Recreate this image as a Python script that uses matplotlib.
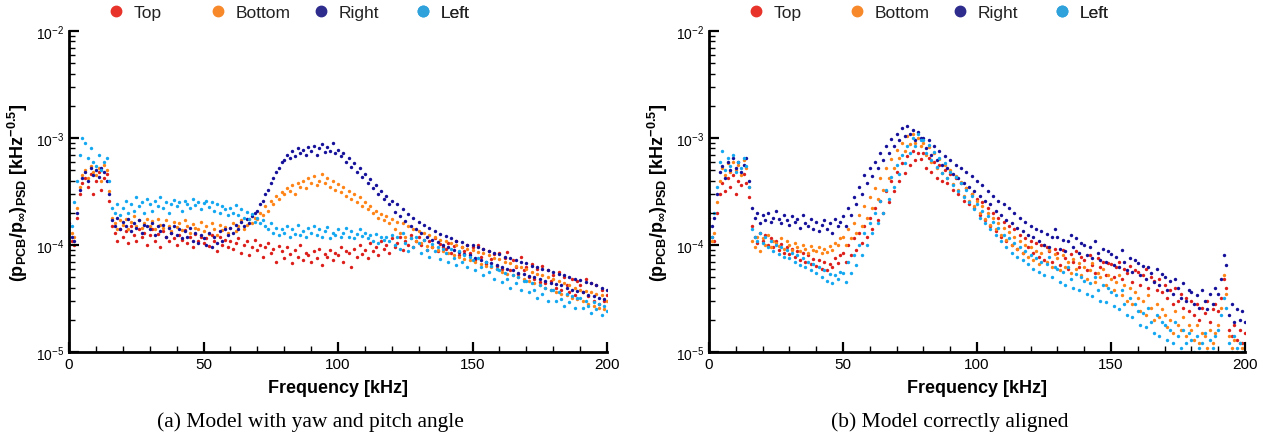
import numpy as np
import matplotlib.pyplot as plt
from matplotlib.ticker import MultipleLocator, LogLocator, NullFormatter
from matplotlib.lines import Line2D

plt.rcParams['font.family'] = ['Liberation Sans', 'DejaVu Sans']
plt.rcParams['mathtext.fontset'] = 'custom'
plt.rcParams['mathtext.rm'] = 'Liberation Sans'
plt.rcParams['mathtext.bf'] = 'Liberation Sans:bold'

# frequency grid [kHz], one reading per kHz
freq = np.arange(0, 201)

# PSD values, in units of 1e-6 kHz^-0.5
# (a) model with yaw and pitch angle
top_a = [150, 110, 100, 180, 300, 380, 420, 350, 460, 300,
         400, 480, 330, 420, 460, 260, 150, 130, 110, 140,
         120, 135, 105, 150, 125, 110, 140, 118, 130, 100,
         125, 140, 110, 128, 95, 135, 120, 108, 130, 115,
         100, 125, 112, 138, 105, 118, 95, 128, 110, 120,
         105, 115, 98, 125, 108, 88, 118, 100, 112, 95,
         110, 92, 105, 115, 85, 100, 108, 80, 96, 112,
         90, 100, 78, 95, 105, 85, 92, 70, 98, 88,
         75, 95, 82, 68, 90, 78, 100, 72, 85, 80,
         70, 88, 76, 92, 65, 82, 78, 90, 72, 85,
         80, 95, 70, 88, 85, 62, 92, 78, 100, 82,
         90, 75, 105, 88, 95, 80, 110, 92, 100, 85,
         115, 95, 105, 120, 90, 110, 100, 125, 95, 108,
         118, 100, 112, 90, 108, 95, 115, 88, 102, 96,
         92, 105, 85, 98, 110, 80, 95, 88, 100, 84,
         95, 72, 100, 78, 92, 66, 88, 74, 82, 64,
         84, 60, 76, 86, 58, 72, 62, 54, 78, 58,
         62, 50, 66, 48, 60, 45, 64, 44, 58, 46,
         52, 40, 56, 38, 50, 42, 36, 48, 34, 46,
         42, 36, 48, 33, 44, 30, 42, 28, 38, 30,
         34]
bottom_a = [180, 130, 120, 220, 350, 450, 500, 420, 550, 480,
            450, 520, 400, 560, 500, 320, 180, 160, 140, 170,
            155, 175, 140, 165, 185, 150, 170, 145, 160, 175,
            150, 168, 140, 175, 155, 145, 170, 150, 135, 165,
            148, 160, 138, 172, 150, 130, 158, 145, 140, 165,
            135, 150, 128, 160, 142, 125, 155, 138, 148, 130,
            145, 160, 135, 150, 170, 140, 155, 175, 160, 180,
            175, 200, 190, 230, 210, 260, 240, 290, 270, 310,
            300, 340, 320, 360, 300, 380, 350, 400, 340, 420,
            380, 440, 360, 400, 460, 380, 420, 350, 400, 330,
            370, 310, 350, 290, 320, 270, 300, 250, 280, 230,
            250, 215, 230, 200, 210, 180, 195, 170, 185, 160,
            175, 140, 165, 130, 160, 120, 150, 115, 140, 110,
            135, 105, 130, 98, 125, 95, 118, 90, 112, 88,
            108, 84, 104, 80, 100, 78, 96, 74, 92, 72,
            90, 70, 86, 66, 84, 64, 80, 62, 76, 60,
            74, 56, 70, 54, 68, 52, 64, 50, 62, 48,
            60, 46, 56, 44, 54, 42, 52, 40, 50, 38,
            48, 36, 46, 35, 44, 34, 42, 32, 40, 31,
            38, 30, 37, 28, 36, 27, 35, 26, 34, 25,
            30]
right_a = [160, 120, 110, 200, 330, 420, 480, 400, 520, 450,
           500, 430, 520, 480, 400, 300, 170, 150, 180, 140,
           165, 150, 175, 135, 160, 145, 170, 130, 155, 150,
           140, 160, 125, 150, 135, 155, 120, 145, 130, 150,
           125, 140, 115, 135, 120, 145, 110, 130, 105, 125,
           115, 100, 130, 95, 120, 105, 135, 110, 140, 125,
           145, 130, 155, 140, 165, 150, 175, 160, 185, 200,
           210, 240, 260, 300, 330, 380, 420, 480, 520, 600,
           620, 700, 650, 760, 680, 800, 720, 780, 700, 820,
           750, 850, 700, 800, 880, 740, 820, 760, 900, 720,
           780, 680, 720, 600, 650, 540, 580, 480, 520, 430,
           460, 380, 410, 340, 360, 300, 320, 270, 290, 240,
           260, 205, 240, 185, 215, 168, 195, 150, 180, 140,
           165, 130, 155, 120, 145, 112, 135, 106, 128, 100,
           122, 95, 116, 90, 110, 86, 106, 82, 100, 80,
           100, 76, 95, 72, 92, 70, 88, 68, 84, 65,
           82, 62, 78, 60, 76, 58, 72, 55, 70, 53,
           68, 51, 64, 50, 62, 48, 60, 46, 58, 44,
           56, 43, 54, 42, 52, 40, 50, 38, 48, 37,
           47, 36, 45, 34, 44, 33, 42, 32, 40, 31,
           38]
left_a = [200, 150, 250, 400, 700, 1000, 900, 650, 800, 600,
          550, 700, 500, 600, 650, 400, 220, 200, 240, 190,
          220, 260, 200, 240, 210, 280, 230, 250, 200, 270,
          240, 210, 260, 230, 280, 220, 250, 200, 240, 265,
          230, 250, 210, 260, 240, 220, 270, 235, 250, 215,
          245, 260, 225, 250, 210, 240, 200, 230, 215, 190,
          220, 200, 235, 190, 215, 180, 205, 175, 195, 165,
          180, 160, 170, 150, 140, 160, 130, 145, 125, 140,
          130, 150, 120, 140, 128, 155, 125, 135, 118, 145,
          130, 150, 125, 140, 120, 135, 148, 115, 130, 125,
          140, 118, 130, 145, 120, 135, 115, 128, 140, 122,
          130, 115, 125, 110, 128, 105, 120, 112, 118, 108,
          125, 100, 118, 92, 130, 105, 88, 115, 95, 120,
          105, 85, 112, 90, 78, 102, 88, 95, 74, 92,
          85, 70, 92, 75, 65, 88, 70, 80, 62, 78,
          72, 58, 76, 62, 52, 70, 56, 64, 48, 60,
          58, 45, 55, 48, 40, 52, 44, 50, 38, 46,
          46, 36, 44, 38, 32, 42, 35, 40, 30, 38,
          38, 30, 36, 31, 27, 35, 29, 33, 26, 32,
          32, 26, 30, 27, 23, 29, 25, 28, 22, 27,
          24]

# (b) model correctly aligned
top_b = [180, 120, 110, 200, 300, 380, 320, 420, 350, 450,
         300, 400, 360, 460, 380, 280, 150, 120, 105, 130,
         110, 125, 100, 115, 95, 108, 90, 102, 85, 96,
         82, 92, 78, 88, 72, 84, 70, 80, 66, 74,
         64, 72, 60, 70, 58, 66, 62, 75, 68, 80,
         85, 70, 100, 80, 115, 90, 130, 105, 150, 120,
         180, 140, 220, 170, 260, 200, 320, 250, 400, 320,
         480, 400, 580, 470, 680, 560, 750, 620, 720, 640,
         720, 520, 650, 480, 600, 420, 560, 400, 500, 380,
         460, 330, 420, 300, 380, 260, 340, 240, 300, 220,
         270, 190, 250, 170, 220, 150, 200, 135, 180, 120,
         165, 110, 150, 100, 140, 92, 125, 85, 115, 95,
         110, 85, 105, 78, 100, 72, 95, 88, 70, 92,
         85, 65, 90, 75, 60, 82, 70, 88, 62, 78,
         72, 58, 80, 65, 55, 75, 62, 70, 52, 68,
         66, 50, 62, 70, 48, 60, 55, 64, 45, 58,
         56, 42, 52, 60, 40, 50, 46, 38, 48, 36,
         42, 32, 38, 28, 40, 30, 35, 26, 32, 24,
         30, 22, 28, 20, 26, 23, 30, 19, 25, 28,
         24, 32, 48, 40, 16, 14, 18, 13, 16, 12,
         15]
bottom_b = [150, 110, 130, 250, 400, 520, 450, 580, 480, 600,
            500, 560, 450, 620, 520, 350, 110, 95, 120, 88,
            115, 100, 125, 95, 110, 105, 98, 115, 92, 108,
            100, 90, 105, 95, 88, 100, 92, 85, 98, 90,
            88, 95, 84, 92, 86, 98, 90, 105, 100, 115,
            120, 100, 140, 115, 160, 130, 190, 150, 230, 180,
            280, 220, 340, 270, 420, 330, 520, 420, 640, 520,
            780, 650, 900, 760, 1050, 880, 1100, 900, 1000, 850,
            900, 700, 820, 600, 720, 520, 640, 470, 560, 420,
            500, 370, 440, 330, 390, 290, 340, 260, 300, 230,
            260, 200, 230, 175, 200, 155, 180, 140, 160, 125,
            145, 112, 132, 100, 120, 92, 110, 85, 100, 78,
            95, 72, 88, 66, 84, 100, 70, 90, 62, 82,
            75, 58, 80, 62, 70, 55, 74, 60, 68, 52,
            62, 48, 58, 68, 45, 55, 50, 60, 42, 52,
            48, 38, 45, 52, 34, 42, 30, 40, 28, 36,
            32, 24, 30, 22, 34, 26, 20, 28, 21, 25,
            22, 17, 20, 15, 24, 18, 16, 21, 14, 18,
            16, 13, 18, 12, 15, 14, 11, 16, 12, 15,
            18, 26, 52, 35, 14, 11, 13, 10, 12, 11,
            12]
right_b = [200, 150, 180, 300, 480, 550, 420, 600, 500, 650,
           520, 600, 480, 560, 650, 400, 220, 180, 200, 160,
           190, 170, 200, 165, 180, 210, 175, 160, 190, 170,
           155, 185, 165, 175, 145, 190, 160, 150, 175, 140,
           165, 135, 155, 170, 140, 160, 130, 175, 150, 165,
           185, 150, 220, 190, 280, 240, 350, 300, 450, 380,
           520, 440, 600, 520, 720, 620, 850, 720, 980, 850,
           1100, 950, 1250, 1050, 1300, 1100, 1200, 950, 1150, 1000,
           1000, 800, 950, 700, 850, 620, 760, 560, 680, 520,
           620, 460, 560, 420, 520, 380, 480, 350, 440, 320,
           400, 290, 360, 260, 320, 240, 290, 210, 260, 190,
           240, 170, 220, 160, 200, 145, 180, 135, 165, 125,
           150, 118, 140, 110, 135, 100, 128, 96, 120, 140,
           118, 92, 112, 88, 108, 125, 95, 115, 85, 105,
           100, 80, 95, 76, 110, 85, 72, 92, 70, 88,
           82, 65, 78, 62, 90, 70, 58, 75, 56, 72,
           68, 52, 64, 48, 62, 55, 45, 60, 42, 54,
           50, 38, 46, 35, 48, 40, 32, 44, 30, 38,
           36, 28, 34, 26, 38, 30, 25, 35, 28, 40,
           35, 48, 80, 65, 22, 28, 19, 25, 20, 24,
           19]
left_b = [150, 120, 200, 350, 600, 750, 500, 650, 550, 700,
          480, 600, 520, 650, 550, 350, 140, 120, 110, 130,
          105, 120, 95, 110, 88, 100, 82, 95, 78, 90,
          75, 85, 70, 80, 65, 75, 62, 70, 58, 66,
          55, 62, 50, 58, 46, 54, 44, 52, 48, 56,
          55, 45, 70, 55, 80, 65, 100, 80, 130, 100,
          160, 130, 200, 160, 260, 200, 330, 270, 430, 350,
          560, 460, 700, 580, 850, 720, 1000, 850, 1100, 950,
          950, 720, 860, 620, 740, 540, 650, 470, 580, 420,
          480, 360, 430, 320, 380, 280, 330, 250, 290, 215,
          240, 180, 210, 160, 185, 140, 165, 125, 145, 110,
          125, 95, 115, 85, 105, 78, 96, 72, 88, 66,
          80, 60, 75, 56, 70, 52, 66, 78, 50, 62,
          60, 45, 56, 42, 62, 48, 40, 54, 38, 50,
          46, 35, 44, 33, 50, 38, 30, 42, 29, 40,
          36, 27, 34, 25, 38, 28, 22, 32, 21, 28,
          24, 18, 23, 17, 26, 19, 15, 22, 14, 19,
          18, 13, 16, 12, 19, 14, 11, 16, 12, 15,
          13, 10, 14, 11, 12, 15, 10, 13, 11, 14,
          16, 22, 32, 26, 12, 10, 14, 11, 12, 10,
          11]

labels = ['Top', 'Bottom', 'Right', 'Left']
colors = ['#dc1f1a', '#ff8418', '#15119a', '#14a8f0']
legend_colors = ['#e8332a', '#f7892a', '#2e2c8c', '#2fa2dc']
captions = ['(a) Model with yaw and pitch angle', '(b) Model correctly aligned']
panels = [[top_a, bottom_a, right_a, left_a], [top_b, bottom_b, right_b, left_b]]

ylab = (r'(p$_{\mathbf{PCB}}$/p$_{\mathbf{\infty}}$)$_{\mathbf{PSD}}$'
        r' [kHz$^{\mathbf{-0.5}}$]')

fig = plt.figure(figsize=(12.71, 4.39), dpi=100)
ax_pos = [[0.0543, 0.196, 0.4233, 0.731], [0.5578, 0.196, 0.4217, 0.731]]
cap_x = [0.244, 0.747]
# legend entry anchors (axes fraction), one per series
leg_x = [0.074, 0.264, 0.455, 0.645]

for i in range(2):
    ax = fig.add_axes(ax_pos[i])
    for series, lab, col in zip(panels[i], labels, colors):
        ax.scatter(freq, np.array(series) * 1e-6, s=6, color=col, label=lab,
                   linewidths=0)
    ax.set_yscale('log')
    ax.set_xlim(0, 200)
    ax.set_ylim(1e-5, 1e-2)
    ax.xaxis.set_major_locator(MultipleLocator(50))
    ax.xaxis.set_minor_locator(MultipleLocator(10))
    ax.yaxis.set_major_locator(LogLocator(base=10))
    ax.yaxis.set_minor_locator(LogLocator(base=10, subs=np.arange(2, 10)))
    ax.yaxis.set_minor_formatter(NullFormatter())
    ax.tick_params(which='major', direction='in', length=7, width=1.6,
                   labelsize=11, colors='black')
    ax.tick_params(which='minor', direction='in', length=4, width=1.0)
    ax.tick_params(axis='y', which='major', labelsize=10)
    for s in ['top', 'right']:
        ax.spines[s].set_visible(False)
    for s in ['left', 'bottom']:
        ax.spines[s].set_linewidth(2)
    ax.set_xlabel('Frequency [kHz]', fontsize=13, fontweight='bold', labelpad=6)
    ax.set_ylabel(ylab, fontsize=13, fontweight='bold', labelpad=4)

    # one legend per series so the entries sit at even spacing
    for lab, col, lx in zip(labels, legend_colors, leg_x):
        h = Line2D([], [], ls='none', marker='o', ms=7.5, color=col)
        leg = ax.legend([h], [lab], loc='center left', bbox_to_anchor=(lx, 1.059),
                        frameon=False, fontsize=12.5, handlelength=0.8,
                        handletextpad=0.62, borderpad=0, borderaxespad=0)
        for t in leg.get_texts():
            t.set_color('#222222')
        ax.add_artist(leg)

    fig.text(cap_x[i], 0.039, captions[i], ha='center', va='center',
             fontsize=15.5, family='Liberation Serif')

fig.savefig('out.png', dpi=100)
